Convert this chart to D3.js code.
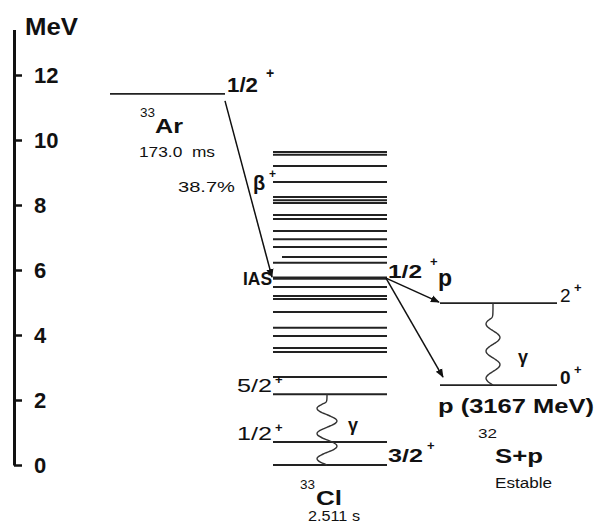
<!DOCTYPE html>
<html>
<head>
<meta charset="utf-8">
<script src="https://cdn.jsdelivr.net/npm/d3@7"></script>
<style>
  html, body { margin: 0; padding: 0; background: #fff; }
  svg { display: block; }
  text { font-family: "Liberation Sans", Arial, Helvetica, sans-serif; fill: #111; white-space: pre; }
</style>
</head>
<body>
<svg id="chart" width="597" height="523"></svg>
<script>
// ---------------- data (MeV) ----------------
const axisTicks = [0, 2, 4, 6, 8, 10, 12];
const ar33Level = 11.42;                 // 33Ar ground state 1/2+
const iasLevel = 5.75;                   // IAS in 33Cl
const cl33Levels = [9.63, 9.55, 9.2, 8.71, 8.25, 8.15, 8.06, 7.69, 7.57, 7.2,
                    6.95, 6.71, 6.22, 5.48, 5.2, 5.11, 4.71, 4.22, 3.97, 3.6,
                    3.48, 2.71, 2.18, 0.71, 0.0];
const cl33ShortLevels = [6.4];
const cl33Spins = [{E: 2.18, label: "5/2"}, {E: 0.71, label: "1/2"}];
const cl33Gamma = [2.18, 0.0];
const s32Levels = [{E: 4.98, label: "2", bold: false}, {E: 2.46, label: "0", bold: true}];

// ---------------- scales ----------------
const svg = d3.select("#chart");
const y = d3.scaleLinear().domain([0, 13.4]).range([465, 29.5]);

const defs = svg.append("defs");
defs.append("marker").attr("id", "arrow")
  .attr("viewBox", "0 0 10 10").attr("refX", 9).attr("refY", 5)
  .attr("markerWidth", 9).attr("markerHeight", 9).attr("markerUnits", "userSpaceOnUse")
  .attr("orient", "auto")
  .append("path").attr("d", "M0,1 L10,5 L0,9 Z").attr("fill", "#111");

// ---------------- axis ----------------
const axis = d3.axisRight(y).tickValues(axisTicks).tickSizeInner(8).tickSizeOuter(0)
  .tickPadding(12).tickFormat(d3.format("d"));
const ag = svg.append("g").attr("transform", "translate(14,0)").call(axis);
ag.select(".domain").attr("stroke", "#111").attr("stroke-width", 3);
ag.selectAll(".tick line").attr("stroke", "#111").attr("stroke-width", 2.5);
ag.selectAll(".tick text").style("font-size", "22px").style("font-weight", "bold")
  .attr("fill", "#111").style("font-family", '"Liberation Sans", Arial, sans-serif');

// ---------------- helpers ----------------
function label(x, yy, str, o = {}) {
  const t = svg.append("text").attr("x", x).attr("y", yy)
    .style("font-size", (o.fs || 14) + "px")
    .style("font-weight", o.bold ? "bold" : "normal")
    .text(str);
  if (o.w) t.attr("textLength", o.w).attr("lengthAdjust", "spacingAndGlyphs");
  if (o.anchor) t.attr("text-anchor", o.anchor);
  return t;
}
function hline(x1, x2, E, sw) {
  svg.append("line").attr("x1", x1).attr("x2", x2).attr("y1", y(E)).attr("y2", y(E))
    .attr("stroke", "#222").attr("stroke-width", sw || 2);
}
function wavy(x, y0, y1, amp, periods, straight) {
  const pts = [[x, y0], [x, y0 + straight]];
  const n = 80, len = y1 - y0 - straight;
  for (let i = 1; i <= n; i++) {
    const t = i / n;
    pts.push([x - amp * Math.sin(t * periods * 2 * Math.PI), y0 + straight + t * len]);
  }
  svg.append("path").attr("d", d3.line().curve(d3.curveBasis)(pts))
    .attr("fill", "none").attr("stroke", "#333").attr("stroke-width", 1.4);
}

// ---------------- 33Ar ----------------
hline(110, 225, ar33Level, 1.6);
label(25, 35, "MeV", {fs: 23, bold: true, w: 53});
label(227, 92, "1/2", {fs: 20, bold: true, w: 31});
label(266, 78, "+", {fs: 14, bold: true});
label(140, 117, "33", {fs: 13, w: 15});
label(155, 133, "Ar", {fs: 21, bold: true, w: 28});
label(139, 157, "173.0  ms", {fs: 14, w: 76});
label(178, 192, "38.7%", {fs: 14, w: 57});
label(253, 190, "β", {fs: 20, bold: true});
label(269, 178, "+", {fs: 12, bold: true});

// beta arrow
svg.append("line").attr("x1", 225).attr("y1", y(ar33Level) + 7)
  .attr("x2", 272).attr("y2", y(iasLevel) - 1)
  .attr("stroke", "#111").attr("stroke-width", 1.5).attr("marker-end", "url(#arrow)");

// ---------------- 33Cl ----------------
cl33Levels.forEach(E => hline(273, 387, E, 2));
cl33ShortLevels.forEach(E => hline(282, 387, E, 2));
hline(273, 387, iasLevel, 3.2);
label(243, 285, "IAS", {fs: 19, bold: true, w: 29});
label(388, 278, "1/2", {fs: 19, bold: true, w: 34});
label(430, 266, "+", {fs: 13, bold: true});
label(438, 286, "p", {fs: 23, bold: true});

cl33Spins.forEach(s => {
  label(237, y(s.E) - 2, s.label, {fs: 18, w: 35});
  label(275, y(s.E) - 10, "+", {fs: 13, bold: true});
});
wavy(327, y(cl33Gamma[0]), y(cl33Gamma[1]), 10, 2.5, 8);
label(348, 431, "γ", {fs: 18, bold: true});
label(388, 462, "3/2", {fs: 19, bold: true, w: 35});
label(427, 450, "+", {fs: 13, bold: true});
label(300, 489, "33", {fs: 13, w: 15});
label(316, 505, "Cl", {fs: 21, bold: true, w: 26});
label(308, 521, "2.511 s", {fs: 14, w: 52});

// ---------------- 32S + p ----------------
s32Levels.forEach(s => {
  hline(440, 557, s.E, 1.7);
  label(560, y(s.E) - 1, s.label, {fs: 19, bold: s.bold});
  label(574, y(s.E) - 11, "+", {fs: 13, bold: true});
});
// proton arrows
svg.append("line").attr("x1", 386).attr("y1", y(iasLevel))
  .attr("x2", 439).attr("y2", y(s32Levels[0].E) - 1)
  .attr("stroke", "#111").attr("stroke-width", 1.5).attr("marker-end", "url(#arrow)");
svg.append("line").attr("x1", 386).attr("y1", y(iasLevel))
  .attr("x2", 443).attr("y2", y(s32Levels[1].E) - 8)
  .attr("stroke", "#111").attr("stroke-width", 1.5).attr("marker-end", "url(#arrow)");
wavy(493, y(s32Levels[0].E), y(s32Levels[1].E), 7, 2.5, 14);
label(518, 363, "γ", {fs: 18, bold: true});
label(438, 413, "p (3167 MeV)", {fs: 21, bold: true, w: 156});
label(478, 438, "32", {fs: 13, w: 19});
label(495, 463, "S+p", {fs: 21, bold: true, w: 48});
label(495, 488, "Estable", {fs: 14, w: 57});
</script>
</body>
</html>
